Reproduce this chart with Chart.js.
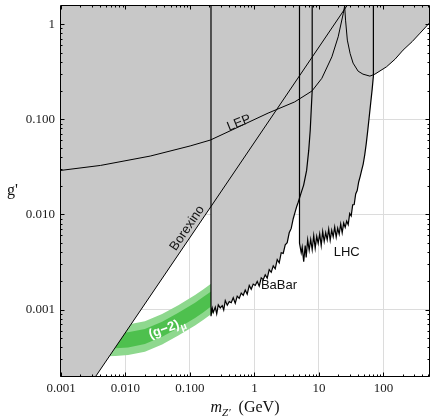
<!DOCTYPE html>
<html>
<head>
<meta charset="utf-8">
<script src="https://cdn.jsdelivr.net/npm/chart.js@4.4.0/dist/chart.umd.min.js"></script>
<style>
  html, body { margin: 0; padding: 0; background: #fff; }
  #wrap { width: 430px; height: 418px; }
</style>
</head>
<body>
<div id="wrap"><canvas id="zprime" width="430" height="418"></canvas></div>
<script>
// axis ticks
const xTicks = [0.001, 0.01, 0.1, 1, 10, 100];
const xTickLabels = ['0.001', '0.010', '0.100', '1', '10', '100'];
const yTicks = [0.001, 0.01, 0.1, 1];
const yTickLabels = ['0.001', '0.010', '0.100', '1'];

// (g-2)_mu band
const bandMass = [0.003, 0.005, 0.007, 0.011, 0.02, 0.037, 0.066, 0.12, 0.16, 0.207, 0.23];
const bandUpper2 = [0.000665, 0.000672, 0.000679, 0.000694, 0.000751, 0.000896, 0.00111, 0.00142, 0.00162, 0.00184, 0.00194];
const bandUpper1 = [0.000553, 0.000559, 0.000565, 0.000577, 0.000625, 0.000745, 0.000926, 0.00118, 0.00135, 0.00153, 0.00161];
const bandLower1 = [0.000383, 0.000387, 0.000391, 0.000399, 0.000433, 0.000516, 0.000641, 0.000815, 0.000932, 0.00106, 0.00111];
const bandLower2 = [0.000318, 0.000322, 0.000325, 0.000332, 0.00036, 0.000429, 0.000533, 0.000678, 0.000775, 0.000879, 0.000927];

// Borexino (straight line)
const borexMass = [0.001, 0.212, 30];
const borexG = [0.0000575, 0.0121, 1.72];

// BaBar outline: wall at 2 m_mu, jagged limit, right edge
const babarMass = [0.212, 0.212, 0.222, 0.230, 0.247, 0.260, 0.275, 0.295, 0.317, 0.334, 0.353, 0.379, 0.407, 0.437, 0.469, 0.504, 0.541, 0.581, 0.624, 0.671, 0.720, 0.773, 0.831, 0.892, 0.958, 1.03, 1.105, 1.187, 1.275, 1.369, 1.470, 1.579, 1.696, 1.822, 1.957, 2.101, 2.257, 2.424, 2.603, 2.796, 3.003, 3.225, 3.463, 3.720, 3.996, 4.292, 4.527, 4.777, 5.27, 5.8, 6.45, 6.95, 7.34, 7.6, 7.87, 7.87];
const babarG = [1.6, 0.00085, 0.00103, 0.00093, 0.00106, 0.00090, 0.00112, 0.00104, 0.00110, 0.00099, 0.00124, 0.00111, 0.00121, 0.00118, 0.00133, 0.00116, 0.00138, 0.00131, 0.00149, 0.00141, 0.00160, 0.00145, 0.00179, 0.00163, 0.00185, 0.00179, 0.00197, 0.00176, 0.00215, 0.00206, 0.00232, 0.00214, 0.00262, 0.00246, 0.00288, 0.00268, 0.00335, 0.00309, 0.00395, 0.00389, 0.00478, 0.00505, 0.00640, 0.00712, 0.00900, 0.01070, 0.0121, 0.0134, 0.0166, 0.0203, 0.029, 0.047, 0.077, 0.125, 0.2, 1.6];

// LHC outline
const lhcMass = [5.0, 5.0, 5.32, 5.51, 5.81, 6.13, 6.35, 6.70, 7.07, 7.46, 7.87, 8.31, 8.76, 9.25, 9.75, 10.29, 10.86, 11.45, 12.08, 12.75, 13.45, 14.19, 14.97, 15.79, 16.66, 17.58, 18.55, 19.56, 20.64, 21.78, 22.97, 24.24, 25.57, 26.98, 28.47, 30.03, 31.68, 33.42, 35.26, 37.20, 39.25, 41.41, 43.69, 46.09, 48.63, 51.30, 54.12, 57.10, 60.24, 63.55, 67.05, 70, 70];
const lhcG = [1.6, 0.00498, 0.00395, 0.00452, 0.00318, 0.00470, 0.00352, 0.00540, 0.00420, 0.00545, 0.00425, 0.00598, 0.00440, 0.00588, 0.00495, 0.00622, 0.00470, 0.00660, 0.00518, 0.00642, 0.00540, 0.00700, 0.00535, 0.00680, 0.00580, 0.00735, 0.00575, 0.00715, 0.00620, 0.00790, 0.00640, 0.00810, 0.00730, 0.00850, 0.00780, 0.01020, 0.00960, 0.0126, 0.0127, 0.0164, 0.0178, 0.0219, 0.0251, 0.0292, 0.0338, 0.0419, 0.0547, 0.0749, 0.1052, 0.1476, 0.2072, 0.284, 1.6];

// upper-right limit
const highMass = [25.0, 25.9, 27.6, 30.5, 33.9, 40.6, 48.2, 61.8, 74.0, 112, 152, 202, 280, 371, 519];
const highG = [1.6, 1.10, 0.679, 0.49, 0.389, 0.32, 0.298, 0.284, 0.298, 0.356, 0.428, 0.533, 0.655, 0.804, 1.03];

// LEP
const lepMass = [0.001, 0.0041, 0.0242, 0.1008, 0.207, 0.6, 1.63, 4.2, 7.8, 11.1, 15.9, 19.9, 23.9, 25.3];
const lepG = [0.029, 0.0327, 0.041, 0.0524, 0.0604, 0.0845, 0.116, 0.152, 0.198, 0.269, 0.453, 0.735, 1.30, 1.6];

const pts = (xs, ys) => xs.slice(0, Math.min(xs.length, ys.length)).map((m, i) => ({x: m, y: ys[i]}));

const GRAY = 'rgb(200,200,200)';
const GREEN_LIGHT = 'rgb(142,216,142)';
const GREEN_DARK = 'rgb(78,192,78)';
const NONE = 'rgba(0,0,0,0)';

function curve(data, extra) {
  return Object.assign({data: data, showLine: true, pointRadius: 0, borderWidth: 1,
    borderColor: '#000', backgroundColor: GRAY, fill: false, tension: 0}, extra);
}

const overlay = {
  id: 'overlay',
  afterDatasetsDraw(chart) {
    const {ctx, scales: {x, y}} = chart;
    const at = (m, g) => [x.getPixelForValue(m), y.getPixelForValue(g)];
    const label = (str, m, g, deg, font, color) => {
      const [px, py] = at(m, g);
      ctx.save();
      ctx.translate(px, py);
      ctx.rotate(deg * Math.PI / 180);
      ctx.font = font;
      ctx.fillStyle = color;
      ctx.textAlign = 'center';
      ctx.textBaseline = 'middle';
      ctx.fillText(str, 0, 0);
      ctx.restore();
    };
    const [bx0, by0] = at(borexMass[0], borexG[0]);
    const [bx1, by1] = at(borexMass[2], borexG[2]);
    const borexAngle = Math.atan2(by1 - by0, bx1 - bx0) * 180 / Math.PI;

    label('LEP', 0.58, 0.091, -22, '13px "Liberation Sans"', '#111');
    label('Borexino', 0.0908, 0.00716, borexAngle, '13px "Liberation Sans"', '#111');
    label('BaBar', 2.4, 0.0018, 0, '13px "Liberation Sans"', '#111');
    label('LHC', 27, 0.00401, 0, '13px "Liberation Sans"', '#111');

    // (g-2)_mu with subscript
    const [gx, gy] = at(0.044, 0.00063);
    ctx.save();
    ctx.translate(gx, gy);
    ctx.rotate(-20 * Math.PI / 180);
    ctx.fillStyle = '#fff';
    ctx.textBaseline = 'middle';
    ctx.font = 'bold 13px "Liberation Sans"';
    const w1 = ctx.measureText('(g\u22122)').width;
    ctx.font = 'bold 10px "Liberation Sans"';
    const w2 = ctx.measureText('\u03bc').width;
    ctx.font = 'bold 13px "Liberation Sans"';
    ctx.fillText('(g\u22122)', -(w1 + w2) / 2, 0);
    ctx.font = 'bold 10px "Liberation Sans"';
    ctx.fillText('\u03bc', -(w1 + w2) / 2 + w1 + 0.5, 4);
    ctx.restore();
  },
  afterDraw(chart) {
    const {ctx, chartArea: a, scales: {x, y}} = chart;
    const L = Math.round(a.left) - 0.5, R = Math.round(a.right) + 0.5;
    const T = Math.round(a.top) - 0.5, B = Math.round(a.bottom) + 0.5;
    ctx.save();
    ctx.strokeStyle = '#000';
    ctx.lineWidth = 1;
    ctx.beginPath();
    ctx.rect(L, T, R - L, B - T);
    ctx.stroke();
    ctx.beginPath();
    for (let k = -4; k <= 3; k++) {
      for (let d = 1; d <= 9; d++) {
        const v = d * Math.pow(10, k);
        const len = d === 1 ? 4 : 2;
        if (v >= x.min && v <= x.max) {
          const px = Math.round(x.getPixelForValue(v)) + 0.5;
          ctx.moveTo(px, B); ctx.lineTo(px, B - len);
          ctx.moveTo(px, T); ctx.lineTo(px, T + len);
        }
        if (v >= y.min && v <= y.max) {
          const py = Math.round(y.getPixelForValue(v)) + 0.5;
          ctx.moveTo(L, py); ctx.lineTo(L + len, py);
          ctx.moveTo(R, py); ctx.lineTo(R - len, py);
        }
      }
    }
    ctx.stroke();

    // y tick labels
    ctx.fillStyle = '#1a1a1a';
    ctx.font = '13px "Liberation Serif"';
    ctx.textAlign = 'right';
    ctx.textBaseline = 'middle';
    yTicks.forEach((v, i) => ctx.fillText(yTickLabels[i], a.left - 6, y.getPixelForValue(v) + 0.5));

    // axis titles
    ctx.fillStyle = '#111';
    ctx.textBaseline = 'alphabetic';
    ctx.textAlign = 'left';
    ctx.font = '16px "Liberation Serif"';
    ctx.fillText("g'", 7, 195);

    const fm = 'italic 16px "Liberation Serif"';
    const fz = 'italic 11px "Liberation Serif"';
    const fg = '16px "Liberation Serif"';
    ctx.font = fm; const wm = ctx.measureText('m').width;
    ctx.font = fz; const wz = ctx.measureText('Z\u2032').width;
    ctx.font = fg; const wg = ctx.measureText('  (GeV)').width;
    let sx = 245 - (wm + wz + wg) / 2;
    const base = 412;
    ctx.font = fm; ctx.fillText('m', sx, base); sx += wm;
    ctx.font = fz; ctx.fillText('Z\u2032', sx, base + 4); sx += wz;
    ctx.font = fg; ctx.fillText('  (GeV)', sx, base);
    ctx.restore();
  }
};

Chart.defaults.font.family = '"Liberation Serif"';

new Chart(document.getElementById('zprime'), {
  type: 'scatter',
  data: {
    datasets: [
      curve(pts(bandMass, bandUpper2), {fill: '+1', backgroundColor: GREEN_LIGHT, borderColor: NONE, order: 6}),
      curve(pts(bandMass, bandLower2), {borderColor: NONE, order: 6}),
      curve(pts(bandMass, bandUpper1), {fill: '+1', backgroundColor: GREEN_DARK, borderColor: NONE, order: 5}),
      curve(pts(bandMass, bandLower1), {borderColor: NONE, order: 5}),
      curve(pts(borexMass, borexG), {fill: 'end', order: 2}),
      curve(pts(babarMass, babarG), {fill: 'end', borderWidth: 1.2, order: 2}),
      curve(pts(lhcMass, lhcG), {fill: 'end', borderWidth: 1.2, order: 2}),
      curve(pts(highMass, highG), {fill: 'end', order: 2}),
      curve(pts(lepMass, lepG), {order: 1})
    ]
  },
  options: {
    responsive: false,
    animation: false,
    devicePixelRatio: 1,
    layout: { padding: { top: 6, right: 1, left: 0, bottom: 0 } },
    plugins: {
      legend: { display: false },
      tooltip: { enabled: false },
      filler: { drawTime: 'beforeDatasetsDraw' }
    },
    scales: {
      x: {
        type: 'logarithmic',
        min: 0.001,
        max: 510,
        afterBuildTicks: s => { s.ticks = xTicks.map(v => ({value: v})); },
        afterFit: s => { s.height = 42; },
        ticks: {
          autoSkip: false, maxRotation: 0, padding: 5, color: '#1a1a1a',
          font: { family: '"Liberation Serif"', size: 13 },
          callback: (v, i) => xTickLabels[i]
        },
        grid: { color: '#dcdcdc', drawTicks: false },
        border: { display: false }
      },
      y: {
        type: 'logarithmic',
        min: 0.0002,
        max: 1.55,
        afterBuildTicks: s => { s.ticks = yTicks.map(v => ({value: v})); },
        afterFit: s => { s.width = 61; },
        ticks: { display: false },
        grid: { color: '#dcdcdc', drawTicks: false },
        border: { display: false }
      }
    }
  },
  plugins: [overlay]
});
</script>
</body>
</html>
